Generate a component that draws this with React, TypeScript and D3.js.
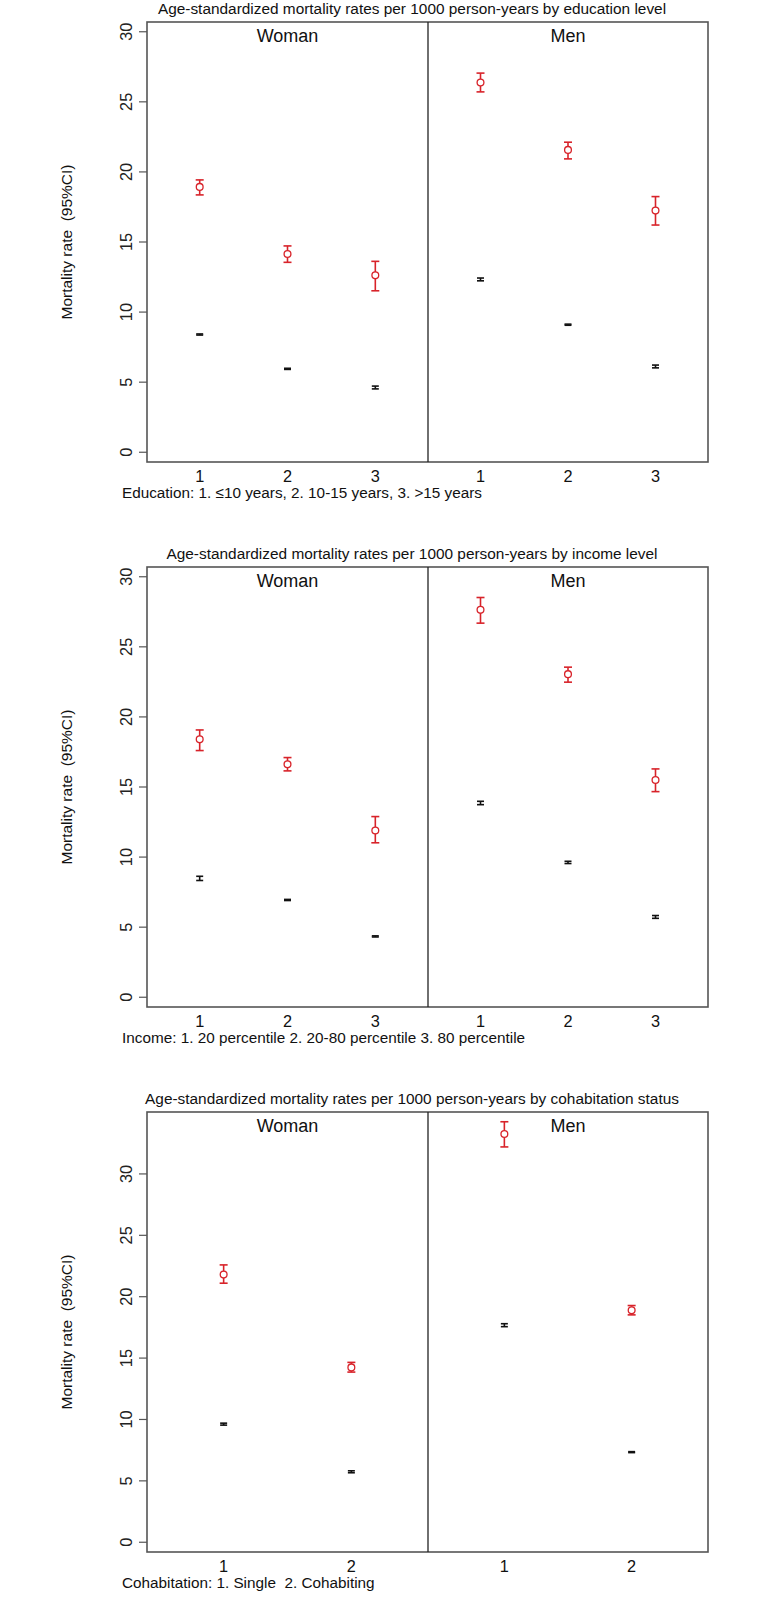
import * as d3 from "d3";

// ---- data ----
const sexes = ["Woman", "Men"];

// education
const eduTitle = "Age-standardized mortality rates per 1000 person-years by education level";
const eduNote = "Education: 1. \u226410 years, 2. 10-15 years, 3. >15 years";
const eduCats = ["1", "2", "3"];
const eduWomenRed = [18.93, 14.14, 12.62];
const eduWomenRedLo = [18.36, 13.55, 11.52];
const eduWomenRedHi = [19.43, 14.72, 13.62];
const eduWomenBlack = [8.4, 5.95, 4.62];
const eduWomenBlackLo = [8.36, 5.91, 4.52];
const eduWomenBlackHi = [8.44, 5.99, 4.72];
const eduMenRed = [26.38, 21.57, 17.24];
const eduMenRedLo = [25.71, 20.93, 16.21];
const eduMenRedHi = [27.05, 22.12, 18.24];
const eduMenBlack = [12.33, 9.1, 6.12];
const eduMenBlackLo = [12.23, 9.06, 6.02];
const eduMenBlackHi = [12.43, 9.14, 6.22];

// income
const incTitle = "Age-standardized mortality rates per 1000 person-years by income level";
const incNote = "Income: 1. 20 percentile 2. 20-80 percentile 3. 80 percentile";
const incCats = ["1", "2", "3"];
const incWomenRed = [18.4, 16.62, 11.9];
const incWomenRedLo = [17.6, 16.15, 11.02];
const incWomenRedHi = [19.07, 17.1, 12.89];
const incWomenBlack = [8.48, 6.94, 4.34];
const incWomenBlackLo = [8.33, 6.9, 4.3];
const incWomenBlackHi = [8.63, 6.98, 4.38];
const incMenRed = [27.64, 23.05, 15.5];
const incMenRedLo = [26.69, 22.48, 14.67];
const incMenRedHi = [28.52, 23.55, 16.29];
const incMenBlack = [13.86, 9.62, 5.73];
const incMenBlackLo = [13.74, 9.54, 5.63];
const incMenBlackHi = [13.98, 9.7, 5.83];

// cohabitation
const cohTitle = "Age-standardized mortality rates per 1000 person-years by cohabitation status";
const cohNote = "Cohabitation: 1. Single\u00a0 2. Cohabiting";
const cohCats = ["1", "2"];
const cohWomenRed = [21.8, 14.24];
const cohWomenRedLo = [21.1, 13.86];
const cohWomenRedHi = [22.59, 14.65];
const cohWomenBlack = [9.62, 5.74];
const cohWomenBlackLo = [9.54, 5.66];
const cohWomenBlackHi = [9.7, 5.82];
const cohMenRed = [33.25, 18.9];
const cohMenRedLo = [32.2, 18.52];
const cohMenRedHi = [34.25, 19.28];
const cohMenBlack = [17.68, 7.34];
const cohMenBlackLo = [17.56, 7.3];
const cohMenBlackHi = [17.8, 7.38];

const yTicks = [0, 5, 10, 15, 20, 25, 30];

type Series = { est: number[]; lo: number[]; hi: number[] };
type PanelData = {
  title: string;
  note: string;
  cats: string[];
  red: Series[]; // [women, men]
  black: Series[];
};

const panels: PanelData[] = [
  {
    title: eduTitle,
    note: eduNote,
    cats: eduCats,
    red: [
      { est: eduWomenRed, lo: eduWomenRedLo, hi: eduWomenRedHi },
      { est: eduMenRed, lo: eduMenRedLo, hi: eduMenRedHi },
    ],
    black: [
      { est: eduWomenBlack, lo: eduWomenBlackLo, hi: eduWomenBlackHi },
      { est: eduMenBlack, lo: eduMenBlackLo, hi: eduMenBlackHi },
    ],
  },
  {
    title: incTitle,
    note: incNote,
    cats: incCats,
    red: [
      { est: incWomenRed, lo: incWomenRedLo, hi: incWomenRedHi },
      { est: incMenRed, lo: incMenRedLo, hi: incMenRedHi },
    ],
    black: [
      { est: incWomenBlack, lo: incWomenBlackLo, hi: incWomenBlackHi },
      { est: incMenBlack, lo: incMenBlackLo, hi: incMenBlackHi },
    ],
  },
  {
    title: cohTitle,
    note: cohNote,
    cats: cohCats,
    red: [
      { est: cohWomenRed, lo: cohWomenRedLo, hi: cohWomenRedHi },
      { est: cohMenRed, lo: cohMenRedLo, hi: cohMenRedHi },
    ],
    black: [
      { est: cohWomenBlack, lo: cohWomenBlackLo, hi: cohWomenBlackHi },
      { est: cohMenBlack, lo: cohMenBlackLo, hi: cohMenBlackHi },
    ],
  },
];

const font = "'Liberation Sans', Arial, sans-serif";
const red = "#d8232a";

const left = 147;
const mid = 428;
const right = 708;
const plotH = 440;
const tops = [22, 567, 1112];

const Panel = ({ p, top }: { p: PanelData; top: number }) => {
  const bottom = top + plotH;
  const maxHi = d3.max([...p.red, ...p.black].flatMap((s) => s.hi)) || 30;
  const yMax = Math.max(30, maxHi);
  const pad = yMax * 0.0232;
  const y = d3.scaleLinear().domain([-pad, yMax + pad]).range([bottom, top]);
  const n = p.cats.length;
  const xs = [
    d3.scaleLinear().domain([1 - 0.6, n + 0.6]).range([left, mid]),
    d3.scaleLinear().domain([1 - 0.6, n + 0.6]).range([mid, right]),
  ];
  const midY = (top + bottom) / 2;

  const bars = (s: Series, x: d3.ScaleLinear<number, number>, color: string, circle: boolean, cap: number) =>
    s.est.map((v, i) => {
      const cx = x(i + 1);
      return (
        <g key={i} stroke={color} fill="none" strokeWidth={1.6}>
          <line x1={cx} x2={cx} y1={y(s.lo[i])} y2={y(s.hi[i])} />
          <line x1={cx - cap} x2={cx + cap} y1={y(s.lo[i])} y2={y(s.lo[i])} />
          <line x1={cx - cap} x2={cx + cap} y1={y(s.hi[i])} y2={y(s.hi[i])} />
          {circle && <circle cx={cx} cy={y(v)} r={3.4} fill="white" strokeWidth={1.3} />}
        </g>
      );
    });

  return (
    <g>
      <text x={412} y={top - 8} textAnchor="middle" fontSize={15.4} fontFamily={font} fill="#111">
        {p.title}
      </text>
      {/* frame */}
      <rect x={left} y={top} width={right - left} height={plotH} fill="none" stroke="#555" strokeWidth={1.6} />
      <line x1={mid} x2={mid} y1={top} y2={bottom} stroke="#222" strokeWidth={1.3} />
      {sexes.map((s, k) => (
        <text
          key={s}
          x={(xs[k].range()[0] + xs[k].range()[1]) / 2}
          y={top + 20}
          textAnchor="middle"
          fontSize={18}
          fontFamily={font}
          fill="#111"
        >
          {s}
        </text>
      ))}
      {/* y axis */}
      {yTicks.map((t) => (
        <g key={t}>
          <line x1={left - 8} x2={left} y1={y(t)} y2={y(t)} stroke="#555" strokeWidth={1.2} />
          <text
            transform={`translate(${left - 15},${y(t)}) rotate(-90)`}
            textAnchor="middle"
            fontSize={16.3}
            fontFamily={font}
            fill="#222"
          >
            {t}
          </text>
        </g>
      ))}
      <text
        transform={`translate(72,${midY}) rotate(-90)`}
        textAnchor="middle"
        fontSize={15.5}
        fontFamily={font}
        fill="#111"
      >
        Mortality rate&#160;&#160;(95%CI)
      </text>
      {/* x labels */}
      {xs.map((x, k) =>
        p.cats.map((c, i) => (
          <text
            key={`${k}-${c}`}
            x={x(i + 1)}
            y={bottom + 20}
            textAnchor="middle"
            fontSize={16.3}
            fontFamily={font}
            fill="#111"
          >
            {c}
          </text>
        ))
      )}
      <text x={122} y={bottom + 36} fontSize={15.3} fontFamily={font} fill="#111">
        {p.note}
      </text>
      {/* error bars */}
      {xs.map((x, k) => (
        <g key={k}>
          {bars(p.black[k], x, "#111", false, 3.5)}
          {bars(p.red[k], x, red, true, 4)}
        </g>
      ))}
    </g>
  );
};

export default function App() {
  return (
    <svg
      width={768}
      height={1598}
      style={{ position: "absolute", left: 0, top: 0, background: "white" }}
    >
      <rect width={768} height={1598} fill="white" />
      {panels.map((p, i) => (
        <Panel key={i} p={p} top={tops[i]} />
      ))}
    </svg>
  );
}
